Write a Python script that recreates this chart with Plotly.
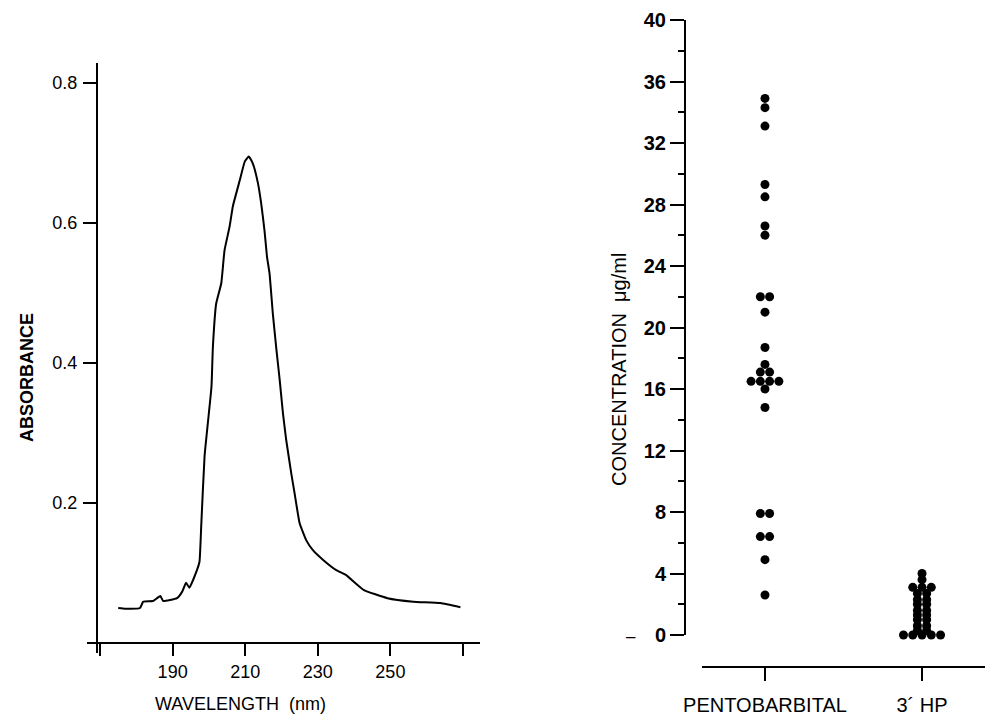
import plotly.graph_objects as go
from collections import Counter

# ---------------- data ----------------
wavelength_nm = [175.0, 177.0, 181.0, 181.9, 184.6, 186.6, 187.4, 191.2, 192.6, 193.7,
                 194.6, 196.7, 197.4, 197.9, 198.8, 199.7, 200.7, 201.1, 202.0, 203.4,
                 204.3, 205.7, 206.6, 208.5, 209.9, 211.0, 212.1, 213.5, 214.4, 215.3,
                 216.0, 216.7, 217.6, 218.6, 219.5, 220.4, 221.3, 222.7, 223.6, 225.0,
                 226.8, 228.6, 231.4, 235.1, 237.8, 242.6, 249.2, 256.3, 263.8, 269.3]
absorbance = [0.050, 0.049, 0.050, 0.059, 0.060, 0.067, 0.060, 0.064, 0.073, 0.086,
              0.079, 0.104, 0.116, 0.170, 0.267, 0.314, 0.366, 0.424, 0.485, 0.514,
              0.561, 0.595, 0.624, 0.661, 0.688, 0.695, 0.685, 0.657, 0.628, 0.590,
              0.552, 0.528, 0.471, 0.419, 0.376, 0.328, 0.290, 0.242, 0.214, 0.171,
              0.147, 0.133, 0.119, 0.104, 0.097, 0.076, 0.064, 0.059, 0.057, 0.051]

wl_tickvals = [170, 190, 210, 230, 250, 270]
wl_ticktext = ["", "190", "210", "230", "250", ""]
abs_tickvals = [0.2, 0.4, 0.6, 0.8]
abs_ticktext = ["0.2", "0.4", "0.6", "0.8"]

categories = ["PENTOBARBITAL", "3\u00b4 HP"]
pentobarbital = [34.9, 34.3, 33.1, 29.3, 28.5, 26.6, 26.0, 22.0, 22.0, 21.0,
                 18.7, 17.6, 17.1, 17.1, 16.5, 16.5, 16.5, 16.5, 16.0, 14.8,
                 7.9, 7.9, 6.4, 6.4, 4.9, 2.6]
hp3 = [4.0, 3.6, 3.1, 3.1, 3.1, 2.7, 2.7, 2.3, 2.3, 2.0, 2.0, 1.6, 1.6,
       1.3, 1.3, 1.0, 1.0, 0.6, 0.6, 0.3, 0.3, 0.0, 0.0, 0.0, 0.0, 0.0]
conc_tickvals = list(range(0, 41, 4))

# ---------------- helpers ----------------
W, H = 985, 716
FONT = "Liberation Sans, Arial, Helvetica, sans-serif"


def px(x):
    return x / W


def py(y):
    return 1 - y / H


def swarm(values, center, step):
    counts = Counter(values)
    seen = Counter()
    xs = []
    for v in values:
        n = counts[v]
        i = seen[v]
        seen[v] += 1
        xs.append(center + (i - (n - 1) / 2) * step)
    return xs


fig = go.Figure()

# left: absorbance spectrum
fig.add_trace(go.Scatter(x=wavelength_nm, y=absorbance, mode="lines",
                         line=dict(color="black", width=2, shape="spline", smoothing=0.4),
                         xaxis="x", yaxis="y", showlegend=False, hoverinfo="skip"))

# right: dot plot
step = 0.059
for i, vals in enumerate([pentobarbital, hp3]):
    fig.add_trace(go.Scatter(x=swarm(vals, i + 1, step), y=vals, mode="markers",
                             marker=dict(color="black", size=9, line=dict(width=0)),
                             cliponaxis=False, xaxis="x2", yaxis="y2",
                             showlegend=False, hoverinfo="skip"))

axis_common = dict(showgrid=False, zeroline=False, showline=True, linecolor="black",
                   linewidth=2, ticks="outside", tickcolor="black", tickwidth=2,
                   automargin=False)

fig.update_layout(
    width=W, height=H, autosize=False,
    margin=dict(l=0, r=0, t=0, b=0),
    paper_bgcolor="white", plot_bgcolor="white",
    font=dict(family=FONT, color="black"),
    xaxis=dict(axis_common, domain=[px(87), px(480)], range=[166.4, 274.7],
               anchor="free", position=py(643), tickvals=wl_tickvals,
               ticktext=wl_ticktext, ticklen=12, ticklabelstandoff=0,
               tickfont=dict(size=18, family=FONT, color="black")),
    yaxis=dict(axis_common, domain=[py(653), py(63)], range=[-0.0143, 0.8286],
               anchor="free", position=px(97), tickvals=abs_tickvals,
               ticktext=abs_ticktext, ticklen=13, ticklabelstandoff=2,
               tickfont=dict(size=18, family=FONT, color="black")),
    xaxis2=dict(axis_common, domain=[px(702), 1.0], range=[0.599, 2.401],
                anchor="free", position=py(667), tickvals=[1, 2],
                ticktext=categories, ticklen=13, ticklabelstandoff=7,
                tickfont=dict(size=20, family=FONT, color="black")),
    yaxis2=dict(axis_common, domain=[py(635), py(20)], range=[0, 40],
                anchor="free", position=px(685), tickvals=conc_tickvals,
                ticktext=[str(v) for v in conc_tickvals], ticklen=14,
                ticklabelstandoff=0,
                minor=dict(dtick=2, ticklen=6, tickwidth=2, tickcolor="black",
                           ticks="outside"),
                tickfont=dict(size=20, family=FONT, color="black", weight="bold")),
)

ann = dict(xref="paper", yref="paper", showarrow=False, xanchor="center",
           yanchor="middle")
fig.add_annotation(ann, text="<b>ABSORBANCE</b>", x=px(27), y=py(378), textangle=-90,
                   font=dict(size=18, family=FONT, color="black"))
fig.add_annotation(ann, text="WAVELENGTH  (nm)", x=px(240), y=py(704),
                   font=dict(size=18, family=FONT, color="black"))
fig.add_annotation(ann, text="CONCENTRATION  \u03bcg/ml", x=px(619), y=py(370),
                   textangle=-90, font=dict(size=20, family=FONT, color="black"))
fig.add_annotation(ann, text="\u2013", x=px(631), y=py(636),
                   font=dict(size=17, family=FONT, color="black"))

# remove the page's default body margin so the figure fills the window exactly
fig.write_html("out.html",
               config={"displayModeBar": False},
               post_script="document.body.style.margin='0px';"
                           "document.body.style.overflow='hidden';")
